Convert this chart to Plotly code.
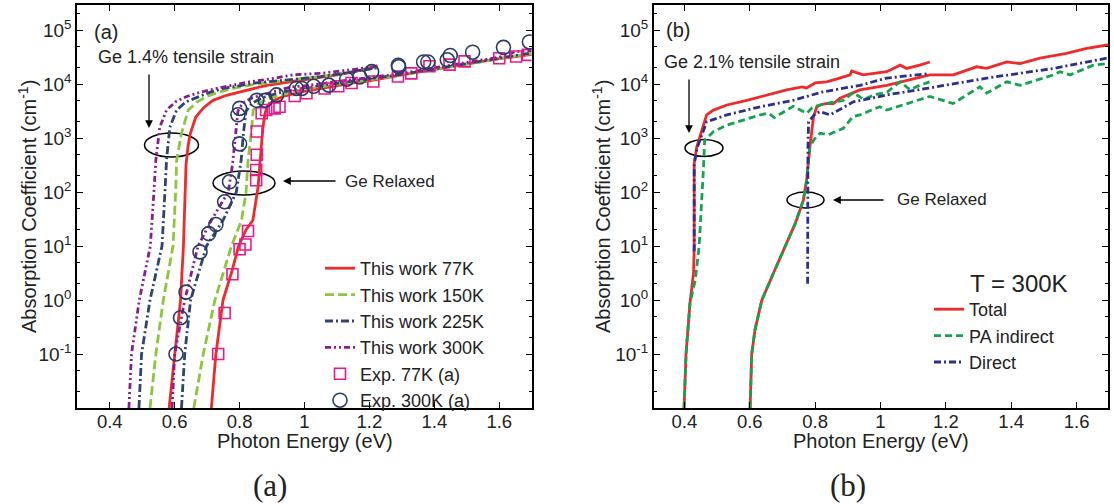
import plotly.graph_objects as go

W, H = 1114, 504

# ---------------- Panel (a) data: Photon energy (eV) vs absorption (cm^-1) ----------------
# theory, 1.4% tensile strain branch
E77_s = [0.583, 0.600, 0.618, 0.627, 0.632, 0.635, 0.641, 0.648, 0.665, 0.690, 0.718, 0.760, 0.802, 0.850, 0.884, 0.940, 0.986, 1.050, 1.100, 1.150, 1.200, 1.225]
A77_s = [1e-2, 1e-1, 1, 10, 100, 320, 700, 1200, 2450, 3700, 5000, 6200, 7200, 8500, 9500, 10700, 11700, 13200, 14800, 16600, 20000, 22000]
E150_s = [0.524, 0.542, 0.565, 0.595, 0.603, 0.606, 0.621, 0.642, 0.670, 0.698, 0.740, 0.780, 0.850, 0.950, 1.020, 1.100, 1.170, 1.222]
A150_s = [1e-2, 1e-1, 1, 10, 100, 390, 1230, 3300, 4700, 5900, 7200, 8300, 10000, 11700, 13200, 15100, 17800, 20000]
E225_s = [0.490, 0.498, 0.524, 0.561, 0.570, 0.575, 0.585, 0.606, 0.635, 0.667, 0.710, 0.750, 0.850, 0.950, 1.050, 1.120, 1.222]
A225_s = [1e-2, 1e-1, 1, 10, 100, 400, 1580, 3300, 4700, 5600, 7100, 8300, 10500, 12000, 13800, 15800, 20000]
E300_s = [0.459, 0.467, 0.491, 0.525, 0.536, 0.542, 0.554, 0.575, 0.605, 0.637, 0.680, 0.729, 0.830, 0.900, 0.963, 1.050, 1.120, 1.220]
A300_s = [1e-2, 1e-1, 1, 10, 100, 390, 1580, 3300, 4800, 5900, 7100, 8300, 11000, 12600, 14800, 15800, 17800, 21000]

# theory, relaxed Ge branch
E77_r = [0.713, 0.727, 0.749, 0.775, 0.797, 0.820, 0.841, 0.857, 0.865, 0.872, 0.878, 0.886, 0.905, 0.934, 0.986, 1.05, 1.10, 1.15, 1.20, 1.25, 1.30, 1.35, 1.40, 1.45, 1.50, 1.55, 1.60, 1.65, 1.70]
A77_r = [1e-2, 1e-1, 1, 3.2, 10, 20, 30, 126, 500, 1580, 2800, 4000, 5000, 5900, 7100, 8300, 9300, 10500, 11500, 13200, 14800, 16600, 18600, 21400, 24000, 26300, 29500, 32400, 35500]
E150_r = [0.659, 0.688, 0.724, 0.775, 0.806, 0.820, 0.826, 0.836, 0.842, 0.860, 0.900, 0.960, 1.00, 1.10, 1.20, 1.30, 1.40, 1.50, 1.60, 1.70]
A150_r = [1e-2, 1e-1, 1, 10, 30, 100, 390, 1230, 3300, 4500, 5600, 7100, 7900, 10000, 12000, 14800, 18600, 23400, 29500, 37000]
E225_r = [0.621, 0.631, 0.649, 0.698, 0.749, 0.790, 0.805, 0.812, 0.820, 0.840, 0.870, 0.930, 1.00, 1.10, 1.20, 1.30, 1.40, 1.50, 1.60, 1.70]
A225_r = [1e-2, 1e-1, 1, 10, 30, 100, 400, 1260, 3160, 4500, 5600, 7100, 8500, 10500, 12600, 15100, 19000, 24000, 30200, 38000]
E300_r = [0.592, 0.600, 0.631, 0.672, 0.713, 0.765, 0.778, 0.787, 0.795, 0.810, 0.840, 0.900, 0.960, 1.00, 1.10, 1.20, 1.30, 1.40, 1.50, 1.60, 1.65, 1.70]
A300_r = [1e-2, 1e-1, 1, 10, 30, 100, 320, 1000, 3160, 4500, 5600, 7100, 8900, 9300, 11200, 13200, 15800, 20000, 25100, 31600, 39800, 41700]

# experimental points
E_exp77 = [0.734, 0.754, 0.778, 0.800, 0.818, 0.826, 0.851, 0.851, 0.853, 0.853, 0.868, 0.882, 0.908, 0.923, 0.970, 1.006, 1.062, 1.104, 1.145, 1.212, 1.288, 1.329, 1.385, 1.447, 1.493, 1.600, 1.652, 1.688]
A_exp77 = [0.1, 0.575, 3.0, 8.7, 10.7, 19, 166, 257, 490, 1320, 2880, 3310, 3550, 3800, 6000, 6760, 8300, 9100, 10500, 11200, 13800, 15800, 21400, 22900, 26300, 30200, 32400, 34700]
E_exp300 = [0.604, 0.618, 0.635, 0.678, 0.705, 0.727, 0.754, 0.769, 0.800, 0.795, 0.800, 0.853, 0.879, 0.914, 0.975, 0.992, 1.028, 1.075, 1.130, 1.170, 1.207, 1.289, 1.290, 1.367, 1.380, 1.440, 1.449, 1.518, 1.613, 1.693]
A_exp300 = [0.1, 0.47, 1.4, 7.8, 17, 25, 66, 155, 780, 2700, 3550, 5000, 5000, 6300, 8300, 8300, 9100, 9550, 12300, 13500, 17000, 22400, 20900, 25700, 25700, 28200, 33900, 38900, 47900, 60300]

# ---------------- Panel (b) data ----------------
# 2.1% tensile strain
Eb_tot_s = [0.399, 0.405, 0.417, 0.428, 0.430, 0.430, 0.430, 0.438, 0.458, 0.468, 0.489, 0.530, 0.591, 0.652, 0.713, 0.760, 0.774, 0.800, 0.835, 0.870, 0.907, 0.912, 0.947, 0.980, 1.019, 1.060, 1.080, 1.120, 1.151]
Ab_tot_s = [1e-2, 1e-1, 0.87, 3.2, 10, 250, 340, 690, 1620, 2700, 3300, 4100, 5000, 6300, 7800, 8900, 8500, 10500, 11000, 12600, 14800, 17400, 14800, 15800, 17000, 22400, 19500, 22400, 25700]
Eb_pa_s = [0.399, 0.405, 0.417, 0.433, 0.445, 0.453, 0.458, 0.462, 0.489, 0.530, 0.591, 0.632, 0.657, 0.675, 0.733, 0.774, 0.794, 0.835, 0.886, 0.916, 0.950, 0.980, 1.020, 1.060, 1.090, 1.120, 1.150]
Ab_pa_s = [1e-2, 1e-1, 0.87, 2.3, 9.8, 60, 250, 910, 1320, 1740, 2290, 2690, 2880, 2400, 3890, 2880, 3800, 4370, 5000, 6900, 5200, 6300, 7100, 11000, 7900, 9500, 11000]
Eb_dir_s = [0.430, 0.430, 0.438, 0.458, 0.468, 0.530, 0.632, 0.733, 0.820, 0.937, 1.019, 1.141]
Ab_dir_s = [8, 320, 630, 1410, 2000, 2690, 3800, 5000, 7100, 9500, 12900, 15500]
# relaxed Ge
Eb_tot_r = [0.601, 0.606, 0.616, 0.637, 0.672, 0.708, 0.739, 0.764, 0.774, 0.784, 0.795, 0.805, 0.815, 0.835, 0.856, 0.876, 0.937, 1.019, 1.151, 1.223, 1.294, 1.325, 1.386, 1.427, 1.488, 1.569, 1.631, 1.700]
Ab_tot_r = [1e-2, 0.1, 0.28, 1, 3.1, 9.8, 26, 71, 166, 690, 2450, 3800, 4100, 4370, 4370, 5500, 7800, 9500, 14800, 14800, 20900, 19500, 25700, 24000, 30200, 37200, 45700, 53700]
Eb_pa_r = [0.601, 0.606, 0.616, 0.637, 0.672, 0.708, 0.739, 0.764, 0.774, 0.784, 0.795, 0.815, 0.840, 0.886, 0.916, 0.937, 0.998, 1.019, 1.110, 1.151, 1.222, 1.304, 1.325, 1.386, 1.427, 1.529, 1.549, 1.580, 1.651, 1.692]
Ab_pa_r = [1e-2, 0.1, 0.28, 1, 3.1, 9.8, 26, 71, 166, 690, 910, 1230, 1150, 1510, 2510, 2690, 3800, 3310, 5000, 5900, 4370, 8900, 6800, 11000, 9500, 14800, 17000, 14800, 22400, 24000]
Eb_dir_r = [0.777, 0.777, 0.778, 0.780, 0.800, 0.815, 0.846, 0.917, 1.019, 1.141, 1.325, 1.529, 1.692]
Ab_dir_r = [2.0, 30, 630, 2000, 2820, 3090, 2690, 4680, 6300, 8300, 12900, 19500, 30200]

# ---------------- axis labels ----------------
y_tickvals = [1e-1, 1, 1e1, 1e2, 1e3, 1e4, 1e5]
y_ticktext = ["10<sup>-1</sup>", "10<sup>0</sup>", "10<sup>1</sup>", "10<sup>2</sup>", "10<sup>3</sup>", "10<sup>4</sup>", "10<sup>5</sup>"]
x_tickvals = [0.4, 0.6, 0.8, 1.0, 1.2, 1.4, 1.6]
x_ticktext = ["0.4", "0.6", "0.8", "1", "1.2", "1.4", "1.6"]
x_title = "Photon Energy (eV)"
y_title = "Absorption Coefficient (cm<sup>-1</sup>)"

FONT = "Liberation Sans, Arial, sans-serif"
INK = "#222"
RED = "#ee2a2a"
GREEN_A = "#8cc63f"
BLUE_A = "#2f4570"
PURPLE = "#8b1c8f"
MAGENTA = "#e8198b"
CIRC = "#2b3c6b"
GREEN_B = "#14a44d"
BLUE_B = "#2b2f8f"


def px(x):
    return x / W


def py(y):
    return 1 - y / H


def join(e1, a1, e2, a2):
    return e1 + [None] + e2, a1 + [None] + a2


fig = go.Figure()

# panel (a) traces
for name, es, as_, er, ar, col, dash in [
    ("This work 77K", E77_s, A77_s, E77_r, A77_r, RED, "solid"),
    ("This work 150K", E150_s, A150_s, E150_r, A150_r, GREEN_A, "9px,4px"),
    ("This work 225K", E225_s, A225_s, E225_r, A225_r, BLUE_A, "8px,3px,2px,3px"),
    ("This work 300K", E300_s, A300_s, E300_r, A300_r, PURPLE, "6px,3px,2px,3px,2px,3px"),
]:
    xx, yy = join(es, as_, er, ar)
    fig.add_trace(go.Scatter(x=xx, y=yy, mode="lines", name=name,
                             line=dict(color=col, width=2.8, dash=dash),
                             xaxis="x", yaxis="y", legend="legend"))

fig.add_trace(go.Scatter(x=E_exp77, y=A_exp77, mode="markers", name="Exp. 77K (a)",
                         marker=dict(symbol="square-open", size=11, color=MAGENTA, line=dict(width=1.6)),
                         xaxis="x", yaxis="y", legend="legend"))
fig.add_trace(go.Scatter(x=E_exp300, y=A_exp300, mode="markers", name="Exp. 300K (a)",
                         marker=dict(symbol="circle-open", size=14, color=CIRC, line=dict(width=1.6)),
                         xaxis="x", yaxis="y", legend="legend"))

# panel (b) traces
xx, yy = join(Eb_tot_s, Ab_tot_s, Eb_tot_r, Ab_tot_r)
fig.add_trace(go.Scatter(x=xx, y=yy, mode="lines", name="Total",
                         line=dict(color=RED, width=2.8), xaxis="x2", yaxis="y2", legend="legend2"))
xx, yy = join(Eb_pa_s, Ab_pa_s, Eb_pa_r, Ab_pa_r)
fig.add_trace(go.Scatter(x=xx, y=yy, mode="lines", name="PA indirect",
                         line=dict(color=GREEN_B, width=2.8, dash="7px,4px"), xaxis="x2", yaxis="y2", legend="legend2"))
xx, yy = join(Eb_dir_s, Ab_dir_s, Eb_dir_r, Ab_dir_r)
fig.add_trace(go.Scatter(x=xx, y=yy, mode="lines", name="Direct",
                         line=dict(color=BLUE_B, width=2.8, dash="7px,3px,2px,3px"), xaxis="x2", yaxis="y2", legend="legend2"))


def xaxis(domain, rng, anchor):
    return dict(domain=domain, range=rng, anchor=anchor, tickvals=x_tickvals, ticktext=x_ticktext,
                ticks="inside", ticklen=6, tickwidth=1.2, tickcolor="black",
                showline=True, linecolor="black", linewidth=2, mirror="ticks",
                showgrid=False, zeroline=False, ticklabelstandoff=-4,
                tickfont=dict(family=FONT, size=18.5, color=INK))


def yaxis(domain, anchor):
    return dict(domain=domain, type="log", range=[-2, 5.465], anchor=anchor,
                tickvals=y_tickvals, ticktext=y_ticktext,
                ticks="inside", ticklen=6, tickwidth=1.2, tickcolor="black",
                minor=dict(ticks="inside", ticklen=3, tickcolor="black", tickwidth=1, showgrid=False),
                showline=True, linecolor="black", linewidth=2, mirror="ticks",
                showgrid=False, zeroline=False,
                tickfont=dict(family=FONT, size=19, color=INK))


ydom = [py(408), py(5)]
fig.update_layout(
    width=W, height=H,
    margin=dict(l=0, r=0, t=0, b=0),
    paper_bgcolor="white", plot_bgcolor="white",
    font=dict(family=FONT, color=INK),
    xaxis=xaxis([px(77.3), px(531.7)], [0.3, 1.7], "y"),
    yaxis=yaxis(ydom, "x"),
    xaxis2=xaxis([px(654), px(1108.3)], [0.307, 1.697], "y2"),
    yaxis2=yaxis(ydom, "x2"),
    legend=dict(x=px(320), y=py(250), xanchor="left", yanchor="top",
                bgcolor="rgba(0,0,0,0)", font=dict(family=FONT, size=18, color=INK)),
    legend2=dict(x=px(929), y=py(291), xanchor="left", yanchor="top",
                 bgcolor="rgba(0,0,0,0)", font=dict(family=FONT, size=18, color=INK)),
)


def text(x, y, s, size, xanchor="center", family=FONT, angle=0):
    return dict(x=px(x), y=py(y), text=s, showarrow=False, xanchor=xanchor, yanchor="middle",
                textangle=angle, font=dict(family=family, size=size, color=INK))


def arrow(x, y, ax, ay):
    return dict(x=px(x), y=py(y), ax=ax, ay=ay, text="", showarrow=True, arrowhead=2,
                arrowsize=1.2, arrowwidth=1.3, arrowcolor="black")


ann = [
    # axis titles
    text(304.5, 441, x_title, 20),
    text(881, 441, x_title, 20),
    text(27, 207, y_title, 20, angle=-90),
    text(601, 207, y_title, 20, angle=-90),
    # panel letters inside plots
    text(106, 32, "(a)", 20),
    text(678, 30, "(b)", 20),
    # strain annotations, panel a
    text(186, 57, "Ge 1.4% tensile strain", 18),
    arrow(149, 128, 0, -55),
    arrow(283, 181, 54, 0),
    text(343, 181, "Ge Relaxed", 17, xanchor="left"),
    # panel b
    text(752, 62, "Ge 2.1% tensile strain", 18),
    arrow(689, 133, 0, -55),
    arrow(833, 200, 52, 0),
    text(895, 200, "Ge Relaxed", 17, xanchor="left"),
    text(968, 283, "T = 300K", 24, xanchor="left"),
    # sub-figure captions
    text(270, 485, "(a)", 31, family="Liberation Serif, serif"),
    text(848, 485, "(b)", 31, family="Liberation Serif, serif"),
]
for a in ann:
    a["xref"] = "paper"
    a["yref"] = "paper"
fig.update_layout(annotations=ann)

shapes = []
for cx, cy, rx, ry in [(171.5, 145, 27, 12), (244, 183, 31, 12), (704, 148, 19, 8.5), (805.5, 200, 18.5, 8)]:
    shapes.append(dict(type="circle", xref="paper", yref="paper",
                       x0=px(cx - rx), x1=px(cx + rx), y0=py(cy + ry), y1=py(cy - ry),
                       line=dict(color="black", width=1.5), layer="below"))
fig.update_layout(shapes=shapes)

fig.write_html("out.html")
